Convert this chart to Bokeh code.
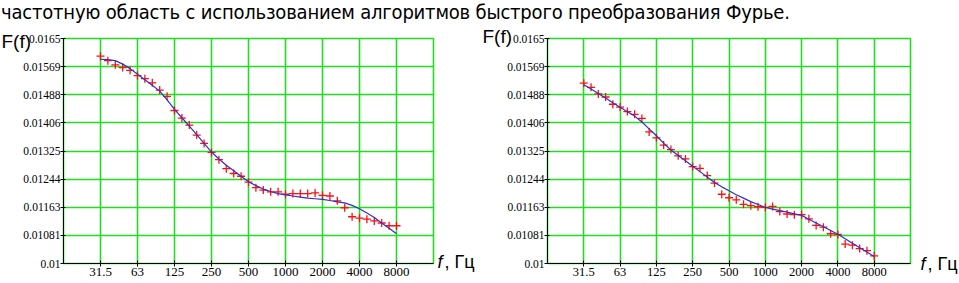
import numpy as np
from bokeh.plotting import figure
from bokeh.models import FixedTicker, Label, Div, CustomJSTickFormatter
from bokeh.layouts import column, row
from bokeh.embed import file_html
from bokeh.resources import INLINE

title_text = "частотную область с использованием алгоритмов быстрого преобразования Фурье."
freq_labels = ["31.5", "63", "125", "250", "500", "1000", "2000", "4000", "8000"]
y_ticks = [0.01, 0.01081, 0.01163, 0.01244, 0.01325, 0.01406, 0.01488, 0.01569, 0.0165]
points_per_octave = 5
y_name = "F(f)"
x_name = "f"
x_unit = ", Гц"

left_measured = [0.01599, 0.01586, 0.01574, 0.01566, 0.01558, 0.01543, 0.01534, 0.01522,
                 0.01501, 0.01483, 0.01442, 0.01420, 0.01400, 0.01371, 0.01347, 0.01321,
                 0.01300, 0.01274, 0.01260, 0.01252, 0.01235, 0.01219, 0.01212, 0.01207,
                 0.01207, 0.01200, 0.01202, 0.01202, 0.01202, 0.01204, 0.01197, 0.01195,
                 0.01181, 0.01161, 0.01135, 0.01131, 0.01128, 0.01123, 0.01117, 0.01109,
                 0.01109]
left_fit = [0.01590, 0.01589, 0.01586, 0.01576, 0.01563, 0.01547, 0.01531, 0.01515,
            0.01498, 0.01473, 0.01445, 0.01421, 0.01397, 0.01372, 0.01347, 0.01322,
            0.01302, 0.01284, 0.01268, 0.01252, 0.01236, 0.01225, 0.01215, 0.01208,
            0.01202, 0.01198, 0.01195, 0.01192, 0.01189, 0.01187, 0.01185, 0.01182,
            0.01178, 0.01175, 0.01168, 0.01158, 0.01146, 0.01133, 0.01117, 0.01102,
            0.01086]
right_measured = [0.01521, 0.01509, 0.01490, 0.01481, 0.01460, 0.01452, 0.01439, 0.01431,
                  0.01419, 0.01380, 0.01363, 0.01342, 0.01329, 0.01311, 0.01302, 0.01280,
                  0.01275, 0.01254, 0.01232, 0.01200, 0.01190, 0.01184, 0.01171, 0.01167,
                  0.01164, 0.01162, 0.01165, 0.01150, 0.01143, 0.01141, 0.01141, 0.01129,
                  0.01110, 0.01105, 0.01086, 0.01084, 0.01056, 0.01053, 0.01043, 0.01037,
                  0.01022]
right_fit = [0.015166, 0.015038, 0.014910, 0.014783, 0.014641, 0.014513, 0.014385, 0.014258,
             0.014087, 0.013889, 0.013690, 0.013477, 0.013278, 0.013122, 0.012966, 0.012810,
             0.012654, 0.012498, 0.012342, 0.012214, 0.012100, 0.011987, 0.011888, 0.011788,
             0.011703, 0.011618, 0.011572, 0.011527, 0.011482, 0.011436, 0.011391, 0.011280,
             0.011172, 0.011062, 0.010954, 0.010843, 0.010715, 0.010588, 0.010457, 0.010329,
             0.010199]

GREEN = "#22dd22"
RED = "#ff1010"
BLUE = "#3030d0"
SERIF = "Liberation Serif"
SANS = "Liberation Sans"


def panel(measured, fit, width, height, borders, name_off, unit_off, xlabel_size):
    bl, br, bt, bb = borders
    p = figure(width=width, height=height, x_range=(-1, len(freq_labels)),
               y_range=(y_ticks[0], y_ticks[-1]), output_backend="svg",
               toolbar_location=None, min_border_left=bl, min_border_right=br,
               min_border_top=bt, min_border_bottom=bb, margin=0)
    p.background_fill_color = "white"
    p.border_fill_color = None
    p.outline_line_color = GREEN
    p.outline_line_width = 1.6

    p.xaxis.ticker = FixedTicker(ticks=list(range(len(freq_labels))))
    p.xaxis.formatter = CustomJSTickFormatter(args=dict(labels=freq_labels),
                                              code="return labels[Math.round(tick)] || ''")
    p.yaxis.ticker = FixedTicker(ticks=y_ticks)
    p.yaxis.formatter = CustomJSTickFormatter(code="return String(tick)")
    for ax in (p.xaxis[0], p.yaxis[0]):
        ax.axis_line_color = "black"
        ax.major_tick_line_color = "black"
        ax.minor_tick_line_color = None
        ax.major_label_text_font = SERIF
        ax.major_label_text_color = "black"
    p.xaxis.major_label_text_font_size = xlabel_size
    p.xaxis.major_tick_in = 3
    p.xaxis.major_tick_out = 3
    p.xaxis.major_label_standoff = 1
    p.yaxis.major_label_text_font_size = "11.5px"
    p.yaxis.major_tick_in = 2
    p.yaxis.major_tick_out = 3
    p.yaxis.major_label_standoff = 0

    p.grid.grid_line_color = GREEN
    p.grid.grid_line_width = 1.6

    octaves = np.arange(len(measured)) / points_per_octave
    p.scatter(octaves, measured, marker="cross", size=8, line_color=RED, line_width=1.3)
    p.line(octaves, fit, line_color=BLUE, line_width=1.2)

    # labels live in side panels so that they are not clipped to the plot frame
    p.add_layout(Label(x=-1, y=y_ticks[-1], x_offset=name_off[0], y_offset=name_off[1],
                       text=y_name, text_font=SANS, text_font_size="19px", text_color="black",
                       text_baseline="middle", text_align="left"), "above")
    p.add_layout(Label(x=len(freq_labels), y=y_ticks[0], x_offset=unit_off[0], y_offset=unit_off[1],
                       text=x_name, text_font=SANS, text_font_style="italic", text_color="black",
                       text_font_size="18px", text_baseline="middle", text_align="left"),
                 "right")
    p.add_layout(Label(x=len(freq_labels), y=y_ticks[0], x_offset=unit_off[0] + 7, y_offset=unit_off[1],
                       text=x_unit, text_font=SANS, text_font_size="18px", text_color="black",
                       text_baseline="middle", text_align="left"), "right")
    return p


p1 = panel(left_measured, left_fit, 480, 269, (63, 47, 22, 20), (-62, -3), (4, 2), "13px")
p2 = panel(right_measured, right_fit, 479, 269, (67, 49, 24, 16), (-65, 2), (10, 0), "12.5px")

title = Div(text=('<div style="font-family:\'DejaVu Sans Condensed\',\'DejaVu Sans\';'
                  'font-size:20px;line-height:24px;letter-spacing:-0.2px;white-space:nowrap;'
                  'margin-left:1px;color:#000">' + title_text + '</div>'),
            width=959, height=14, margin=0)

layout = column(title, row(p1, p2, margin=0, spacing=0), margin=0, spacing=0)

open("out.html", "w").write(file_html(layout, INLINE))
